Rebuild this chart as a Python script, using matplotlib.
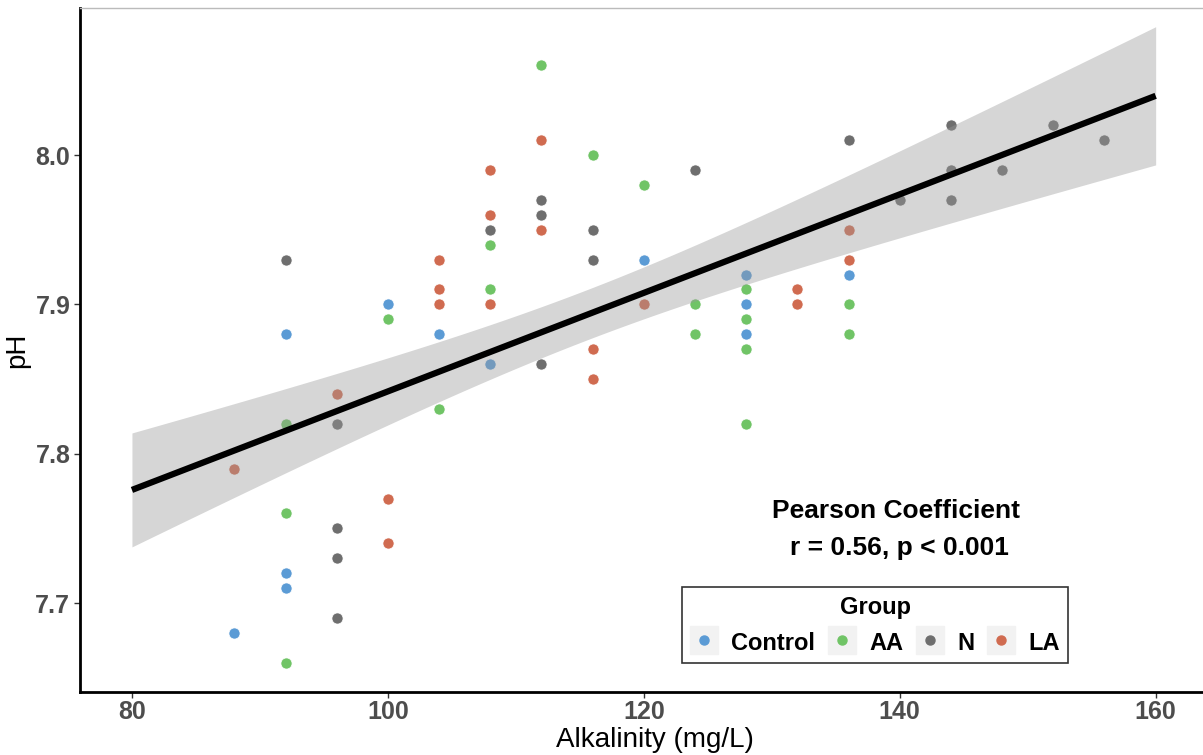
import numpy as np
import matplotlib
matplotlib.use("Agg")
import matplotlib.pyplot as plt
from matplotlib.lines import Line2D
from matplotlib.legend_handler import HandlerTuple

# ---- data ----
control_x = [88, 92, 92, 92, 100, 104, 108, 120, 128, 128, 128, 136]
control_y = [7.68, 7.88, 7.72, 7.71, 7.90, 7.88, 7.86, 7.93, 7.92, 7.90, 7.88, 7.92]

aa_x = [92, 92, 92, 100, 104, 108, 108, 112, 116, 120, 124, 124, 128, 128, 128, 128, 136, 136]
aa_y = [7.82, 7.76, 7.66, 7.89, 7.83, 7.94, 7.91, 8.06, 8.00, 7.98, 7.90, 7.88, 7.91, 7.89, 7.87, 7.82, 7.90, 7.88]

n_x = [92, 96, 96, 96, 96, 108, 112, 112, 112, 116, 116, 124, 136, 140, 144, 144, 144, 148, 152, 156]
n_y = [7.93, 7.82, 7.75, 7.73, 7.69, 7.95, 7.97, 7.96, 7.86, 7.95, 7.93, 7.99, 8.01, 7.97, 8.02, 7.99, 7.97, 7.99, 8.02, 8.01]

la_x = [88, 96, 100, 100, 104, 104, 104, 108, 108, 108, 112, 112, 116, 116, 120, 132, 132, 136, 136]
la_y = [7.79, 7.84, 7.77, 7.74, 7.93, 7.91, 7.90, 7.99, 7.96, 7.90, 8.01, 7.95, 7.87, 7.85, 7.90, 7.91, 7.90, 7.95, 7.93]

groups = ["Control", "AA", "N", "LA"]
colors = ["#5B9BD5", "#70C466", "#6E6E6E", "#D06B50"]
xticks = [80, 100, 120, 140, 160]
yticks = [7.7, 7.8, 7.9, 8.0]

plt.rcParams["font.family"] = ["Liberation Sans", "DejaVu Sans"]

fig = plt.figure(figsize=(12.03, 7.55), dpi=100)
ax = fig.add_axes([0.0665, 0.0834, 0.9335, 0.906])

series = [(control_x, control_y), (aa_x, aa_y), (n_x, n_y), (la_x, la_y)]
for (xs, ys), c in zip(series, colors):
    ax.scatter(xs, ys, s=64, color=c, edgecolors="white", linewidths=0.5, zorder=2)

# linear regression with 95% confidence band
allx = np.array(sum([list(s[0]) for s in series], []), float)
ally = np.array(sum([list(s[1]) for s in series], []), float)
n = len(allx)
b, a = np.polyfit(allx, ally, 1)
xx = np.linspace(80, 160, 200)
yy = a + b * xx
resid = ally - (a + b * allx)
s_err = np.sqrt(np.sum(resid ** 2) / (n - 2))
tval = 1.993
se = s_err * np.sqrt(1 / n + (xx - allx.mean()) ** 2 / np.sum((allx - allx.mean()) ** 2))
ax.fill_between(xx, yy - tval * se, yy + tval * se, color="#999999", alpha=0.4, lw=0, zorder=3)
ax.plot(xx, yy, color="black", lw=4.5, zorder=4, solid_capstyle="butt")

ax.set_xlim(75.94, 163.7)
ax.set_ylim(7.6404, 8.0985)
ax.set_xticks(xticks)
ax.set_yticks(yticks)
ax.set_xticklabels([str(t) for t in xticks], fontsize=18, fontweight="bold", color="#4D4D4D")
ax.set_yticklabels([f"{t:.1f}" for t in yticks], fontsize=18, fontweight="bold", color="#4D4D4D")
ax.tick_params(length=4, width=1, color="#333333", pad=3)
ax.tick_params(axis="x", pad=1.5)
ax.set_xlabel("Alkalinity (mg/L)", fontsize=20, labelpad=0)
ax.xaxis.set_label_coords(0.512, -0.0512)
ax.set_ylabel("pH", fontsize=20, labelpad=4)

ax.spines["right"].set_visible(False)
ax.spines["top"].set_color("#BBBBBB")
ax.spines["top"].set_linewidth(1)
ax.spines["left"].set_linewidth(2)
ax.spines["bottom"].set_linewidth(2)

ax.text(0.727, 0.2646, "Pearson Coefficient", transform=ax.transAxes, ha="center",
        va="center", fontsize=19, fontweight="bold")
ax.text(0.730, 0.2105, "r = 0.56, p < 0.001", transform=ax.transAxes, ha="center",
        va="center", fontsize=19, fontweight="bold")

handles = []
for c in colors:
    bg = Line2D([], [], marker="s", markersize=19.5, color="#F2F2F2", linestyle="none")
    dot = Line2D([], [], marker="o", markersize=6.5, color=c, linestyle="none")
    handles.append((bg, dot))
leg = ax.legend(handles, groups, handler_map={tuple: HandlerTuple(ndivide=1, pad=0)},
                title="Group", ncol=4, loc="lower left",
                bbox_to_anchor=((682 - 80) / 1123, (692 - 663) / 684),
                frameon=True, fancybox=False, edgecolor="black",
                title_fontproperties={"weight": "bold", "size": 17},
                prop={"weight": "bold", "size": 17}, handlelength=1.14, handleheight=1.1,
                handletextpad=0.6, columnspacing=0.55, borderpad=0.35, borderaxespad=0)
leg.get_frame().set_linewidth(1.2)

fig.savefig("out.png", dpi=100)
